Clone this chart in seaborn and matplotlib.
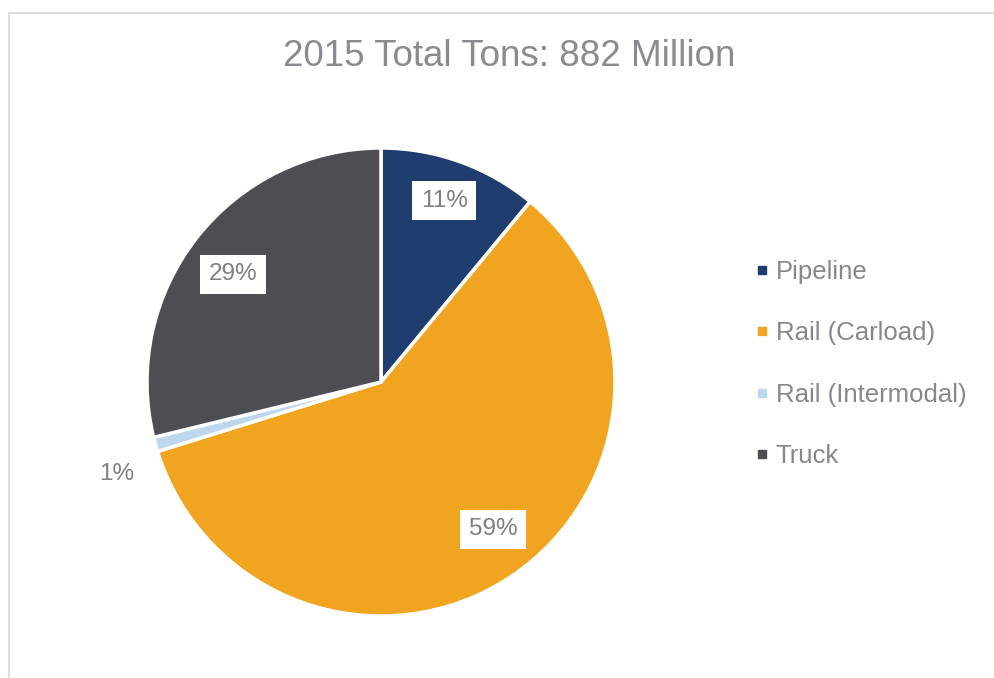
import matplotlib
matplotlib.use("Agg")
import matplotlib.pyplot as plt
import seaborn as sns
import numpy as np
from matplotlib.lines import Line2D
from matplotlib.patches import Rectangle

categories = ["Pipeline", "Rail (Carload)", "Rail (Intermodal)", "Truck"]
shares = [11.0, 59.2, 1.0, 28.8]
pct_labels = ["11%", "59%", "1%", "29%"]
title = "2015 Total Tons: 882 Million"

sns.set_theme(style="white")
plt.rcParams["font.family"] = ["Liberation Sans", "DejaVu Sans"]

colors = sns.color_palette(["#1F3E6F", "#F0A420", "#BDD7EE", "#4D4E53"])
text_grey = "#7F7F7F"

fig = plt.figure(figsize=(9.95, 6.78), dpi=100)
fig.patch.set_facecolor("white")
W, H = 995, 678
cx, cy, r = 381, 382, 234
ax = fig.add_axes([(cx - r) / W, (H - cy - r) / H, 2 * r / W, 2 * r / H])

wedges, _ = ax.pie(shares, colors=colors, startangle=90, counterclock=False,
                   radius=1.0,
                   wedgeprops=dict(edgecolor="white", linewidth=2.5))
ax.set_xlim(-1, 1)
ax.set_ylim(-1, 1)
ax.set_aspect("equal")
ax.axis("off")

# label placement: (radius, pixel offset) per label
placement = {"11%": (0.80, (0, 5)), "59%": (0.80, (8, 8)),
             "1%": (1.19, (4, -18)), "29%": (0.80, (-1, -8))}
for w, lab in zip(wedges, pct_labels):
    mid = np.deg2rad((w.theta1 + w.theta2) / 2)
    d, off = placement[lab]
    kw = {}
    if lab != "1%":
        kw["bbox"] = dict(facecolor="white", edgecolor="none",
                          boxstyle="square,pad=0.35")
    ax.annotate(lab, xy=(d * np.cos(mid), d * np.sin(mid)), xytext=off,
                textcoords="offset pixels", ha="center", va="center",
                fontsize=17.5, color=text_grey, annotation_clip=False, **kw)

fig.text(509 / W, (H - 56) / H, title, ha="center", va="center",
         fontsize=26.5, color="#8A8B90")

handles = [Line2D([0], [0], marker="s", linestyle="none", markersize=6,
                  markerfacecolor=c, markeredgecolor=c) for c in colors]
fig.legend(handles, categories, loc="center left",
           bbox_to_anchor=(754 / W, (H - 364) / H), frameon=False,
           fontsize=18.5, labelcolor="#84878D", handlelength=0.6,
           handletextpad=0.25, labelspacing=1.45, borderpad=0, borderaxespad=0)

fig.patches.append(Rectangle((9 / W, -0.1), 1.2, (H - 13) / H + 0.1,
                             transform=fig.transFigure, fill=False,
                             edgecolor="#D9D9D9", linewidth=1.2))

fig.savefig("out.png", dpi=100, facecolor="white")
